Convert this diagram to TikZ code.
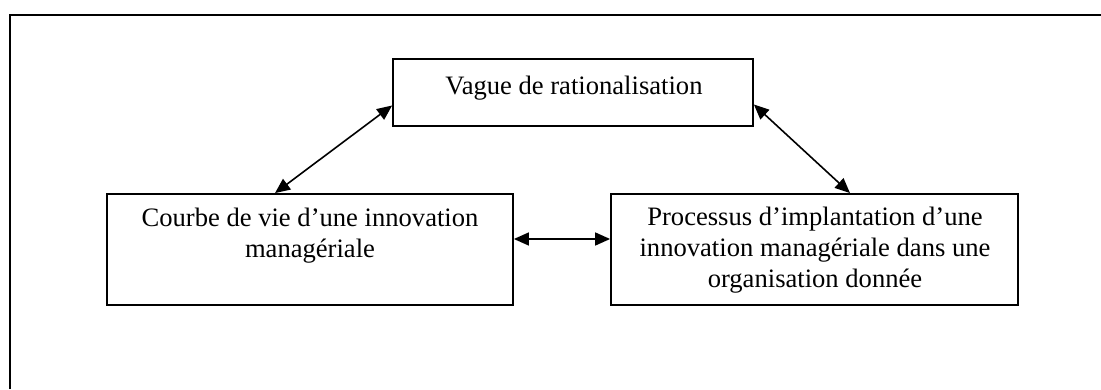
\documentclass[tikz,border=0pt]{standalone}
\usepackage{fontspec}
\setmainfont{Liberation Serif}
\usetikzlibrary{arrows.meta}
\begin{document}
\begin{tikzpicture}[x=1pt,y=1pt,
  box/.style={draw,line width=1.8pt,minimum width=#1,inner sep=0pt},
  txt/.style={align=center,inner sep=0pt,anchor=base,font=\fontsize{26.6}{30.6}\selectfont},
  link/.style={line width=1.6pt,{Triangle[length=15pt,width=13pt]}-{Triangle[length=15pt,width=13pt]}}]
\useasboundingbox (0,0) rectangle (1101,389);
% outer frame (left and top sides)
\coordinate (fa) at (10,0);
\coordinate (fb) at (10,374);
\coordinate (fc) at (1101,374);
\draw[line width=2.4pt] (fa) -- (fb) -- (fc);
% boxes
\node[box=360pt,minimum height=67pt] (top) at (573,296.5) {};
\node[box=406pt,minimum height=111pt] (left) at (310,139.5) {};
\node[box=407pt,minimum height=111pt] (right) at (814.5,139.5) {};
% texts (base anchor = baseline of the last line)
\node[txt] (ttop) at (574,294) {Vague de rationalisation};
\node[txt] (tleft) at (310,132) {Courbe de vie d’une innovation\\managériale};
\node[txt] (tright) at (815,102) {Processus d’implantation d’une\\innovation managériale dans une\\organisation donnée};
% connectors
\draw[link] ([yshift=-13pt]top.west) -- ([xshift=-35pt]left.north);
\draw[link] ([yshift=-12pt]top.east) -- ([xshift=35.5pt]right.north);
\draw[link] ([yshift=10.5pt]left.east) -- ([yshift=10.5pt]right.west);
\end{tikzpicture}
\end{document}
